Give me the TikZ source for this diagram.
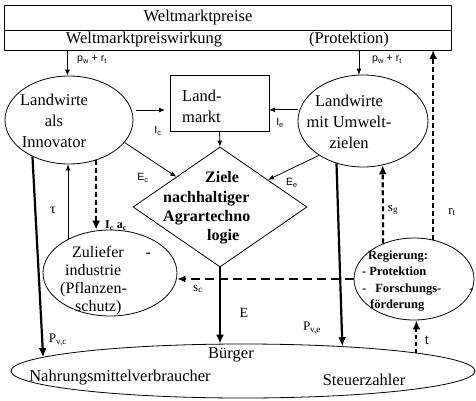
\documentclass[tikz,border=0pt]{standalone}
\usepackage{fontspec}
\setmainfont{Liberation Serif}
\newfontfamily\labsans{Liberation Sans}
\usetikzlibrary{arrows.meta,shapes.geometric,calc}
\begin{document}
\begin{tikzpicture}[x=1pt,y=-1pt,
  boxnode/.style={draw, rectangle, line width=0.8pt, inner sep=0pt, outer sep=0pt},
  ell/.style={draw, ellipse, line width=0.8pt, inner sep=0pt},
  bigtxt/.style={font=\fontsize{16.5}{21}\selectfont, inner sep=0pt, align=center},
  diamtxt/.style={font=\bfseries\fontsize{16}{19.3}\selectfont, inner sep=0pt, align=left},
  regtxt/.style={font=\bfseries\fontsize{12.5}{16.4}\selectfont, inner sep=0pt, align=left},
  lab/.style={font=\labsans\fontsize{10.5}{12}\selectfont, inner sep=0pt},
  serlab/.style={font=\fontsize{13}{15}\selectfont, inner sep=0pt},
  thinarrow/.style={line width=0.8pt, -{Latex[length=6pt,width=5pt]}},
  thickarrow/.style={line width=2.2pt, -{Latex[length=9pt,width=8pt]}},
  dasharrow/.style={line width=2.2pt, dash pattern=on 5pt off 3pt, -{Latex[length=9pt,width=8pt]}},
  scarrow/.style={line width=1.3pt, dash pattern=on 9pt off 5pt, -{Latex[length=8pt,width=7pt]}}
]
\useasboundingbox (0,0) rectangle (476,401);

% top box
\node[boxnode, minimum width=447pt, minimum height=25pt, anchor=north west] (wm) at (4,5) {};
\node[boxnode, minimum width=447pt, minimum height=20pt, anchor=north west] (wmw) at (wm.south west) {};
\node[bigtxt] (wmT) at (198,18) {Weltmarktpreise};
\node[bigtxt] (wmwT) at (144,40) {Weltmarktpreiswirkung};
\node[bigtxt] (protT) at (349,40) {(Protektion)};

% Landwirte als Innovator
\node[ell, minimum width=128pt, minimum height=88pt] (innov) at (69,120) {};
\node[bigtxt] (innovT) at (54,121) {Landwirte\\als\\Innovator};

% Landmarkt
\node[boxnode, minimum width=99pt, minimum height=56pt, anchor=north west] (land) at (170,75) {};
\node[bigtxt, align=left, anchor=west] (landT) at (182,106) {Land-\\markt};

% Landwirte mit Umweltzielen
\node[ell, minimum width=130pt, minimum height=92pt] (umw) at (363,121) {};
\node[bigtxt] (umwT) at (349,122) {Landwirte\\mit Umwelt-\\zielen};

% diamond
\node[draw, diamond, line width=0.8pt, minimum width=174pt, minimum height=120pt, inner sep=0pt] (diam) at (220,207) {};
\node[diamtxt, anchor=west] (diamT) at (163,208) {\hspace*{42pt}Ziele\\nachhaltiger\\Agrartechno\\\hspace*{44pt}logie};

% Zulieferindustrie
\node[ell, minimum width=134pt, minimum height=86pt] (zul) at (110,273) {};
\node[bigtxt, font=\fontsize{16}{18}\selectfont, align=left, anchor=west] (zulT) at (60,281) {\hspace*{12pt}Zuliefer\hspace{22pt}-\\\hspace*{5pt}industrie\\(Pflanzen-\\\hspace*{15pt}schutz)};

% Regierung
\node[ell, minimum width=120pt, minimum height=82pt] (reg) at (414,279) {};
\node[regtxt, anchor=west] (regT) at (362,281) {\hspace*{6pt}Regierung:\\- Protektion\\-\hspace{9pt}Forschungs-\hspace{28pt}-\\\hspace*{8pt}förderung};

% Buerger
\node[ell, minimum width=464pt, minimum height=54pt] (bot) at (243,371) {};
\node[bigtxt] (burgT) at (231,355) {Bürger};
\node[bigtxt] (nahrT) at (120,378) {Nahrungsmittelverbraucher};
\node[bigtxt] (steuT) at (364,380) {Steuerzahler};

% connectors
\draw[thinarrow] (innov.92 |- wmw.south) -- (innov.92);
\draw[thinarrow] (umw.95 |- wmw.south) -- (umw.95);
\draw[thinarrow, shorten <=4pt, shorten >=5pt] (innov.9.1) -- (innov.9.1 -| land.west);
\draw[thinarrow, shorten <=2pt] (umw.170.1) -- (umw.170.1 -| land.east);
\draw[thinarrow] (innov.338.4) -- (diam.north west);
\draw[thinarrow] (umw.218) -- ($(diam.north)!0.55!(diam.east)$);
\draw[thinarrow] (land.south) -- (diam.north);
\draw[thickarrow] (innov.225.3) -- (bot.176.9);
\draw[thinarrow] (zul.141.4) -- (zul.141.4 |- innov.south);
\draw[dasharrow] (innov.304.1) -- (innov.304.1 |- zul.north);
\draw[scarrow] (reg.west) -- (reg.west -| zul.east);
\draw[thickarrow] (diam.south) -- (diam.south |- bot.north);
\draw[thickarrow] (umw.238.4) -- (bot.14.7);
\draw[dasharrow] (reg.131.4) -- (umw.294.6);
\draw[dasharrow, line width=2pt] (reg.64) -- (reg.64 |- wmw.south);
\draw[dasharrow, line width=2pt, dash pattern=on 4pt off 3pt] (bot.6.1) -- (bot.6.1 |- reg.south);

% labels
\node[lab] (lp1) at (92,60) {p\textsubscript{w} + r\textsubscript{t}};
\node[lab] (lp2) at (387,60) {p\textsubscript{w} + r\textsubscript{t}};
\node[lab] (lic) at (158,131) {I\textsubscript{c}};
\node[lab] (lie) at (280,123) {I\textsubscript{e}};
\node[lab] (lec) at (143,178) {E\textsubscript{c}};
\node[lab] (lee) at (292,183) {E\textsubscript{e}};
\node[serlab, font=\fontsize{14}{16}\selectfont] (ltau) at (53,210) {τ};
\node[serlab, font=\bfseries\fontsize{12}{14}\selectfont] (liac) at (116,226) {I\textsubscript{c} a\textsubscript{c}};
\node[serlab] (lpvc) at (58,340) {P\textsubscript{v,c}};
\node[serlab] (lpve) at (312,328) {P\textsubscript{v,e}};
\node[serlab, font=\fontsize{14}{16}\selectfont] (lE) at (244,313) {E};
\node[serlab] (lsc) at (198,289) {s\textsubscript{c}};
\node[serlab] (lsg) at (393,210) {s\textsubscript{g}};
\node[serlab] (lrt) at (452,212) {r\textsubscript{t}};
\node[serlab, font=\fontsize{15}{17}\selectfont] (lt) at (427,340) {t};
\end{tikzpicture}
\end{document}
